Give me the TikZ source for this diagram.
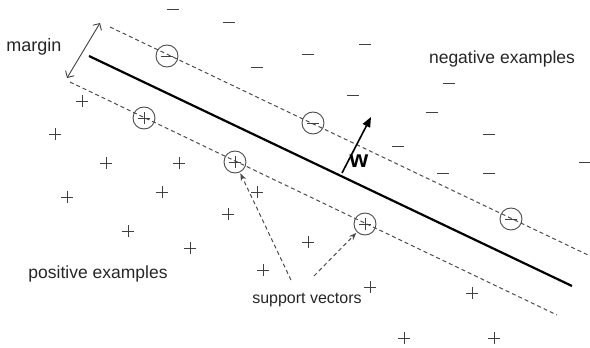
\documentclass[tikz,border=0pt]{standalone}
\usepackage{fontspec}
\setmainfont{Liberation Sans}
\usetikzlibrary{arrows.meta}
\usetikzlibrary{calc}

% signs of the examples
\newcommand{\plussign}[1]{\draw[sign] ($(#1)+(-6,0)$) -- ($(#1)+(6,0)$) ($(#1)+(0,-6)$) -- ($(#1)+(0,6)$);}
\newcommand{\minussign}[1]{\draw[sign] ($(#1)+(-6,0)$) -- ($(#1)+(6,0)$);}

\begin{document}
\begin{tikzpicture}[x=1pt, y=-1pt, >=Stealth,
    every node/.style={text=black!85},
    sign/.style={black!75, line width=0.9pt},
    svec/.style={circle, draw=black!70, line width=0.9pt, minimum size=22pt, inner sep=0pt},
    bound/.style={dashed, black!70, line width=1pt, dash pattern=on 4pt off 3pt}]

\useasboundingbox (0,0) rectangle (590,348);

% --- 1. SEPARATING LINE AND MARGINS ---
\coordinate (hyp_start) at (89,56);
\coordinate (hyp_end) at (572,286);
\coordinate (up_start) at (110,27);
\coordinate (up_end) at (588,255);
\coordinate (lo_start) at (70,82);
\coordinate (lo_end) at (557,315);

\draw[black, line width=2.2pt] (hyp_start) -- (hyp_end);
\draw[bound] (up_start) -- (up_end);
\draw[bound] (lo_start) -- (lo_end);

% margin arrow
\coordinate (m_top) at (100,23);
\coordinate (m_bot) at (67,78);
\draw[{Straight Barb[length=5pt]}-{Straight Barb[length=5pt]}, black!75, line width=0.9pt] (m_top) -- (m_bot);
\node[font=\fontsize{18}{20}\selectfont] (margin) at (34,47) {margin};

% normal vector
\coordinate (w_foot) at (342,173);
\coordinate (w_tip) at (371,117);
\draw[-{Triangle[length=10pt, width=8pt]}, black, line width=1.6pt] (w_foot) -- (w_tip);
\node[font=\fontsize{24}{26}\selectfont\bfseries, text=black] (w) at (359,161) {w};

% --- 2. SUPPORT VECTORS ---
\node[svec] (sv_n1) at (167,56) {};
\node[svec] (sv_n2) at (313,123) {};
\node[svec] (sv_n3) at (511,219) {};
\node[svec] (sv_p1) at (144,118) {};
\node[svec] (sv_p2) at (235,162) {};
\node[svec] (sv_p3) at (365,224) {};
\foreach \n in {sv_n1,sv_n2,sv_n3} {\minussign{\n.center}}
\foreach \p in {sv_p1,sv_p2,sv_p3} {\plussign{\p.center}}

% --- 3. OTHER EXAMPLES ---
\foreach \x/\y in {173/9, 229/22, 257/67, 308/54, 365/44, 353/95, 449/83,
                   432/112, 489/134, 398/146, 443/173, 489/173, 585/162}
    {\minussign{\x,\y}}
\foreach \x/\y in {82/101, 55/134, 106/163, 179/163, 67/197, 162/192, 257/192,
                   228/214, 128/231, 190/248, 263/270, 308/242, 370/287,
                   472/293, 404/338, 494/338}
    {\plussign{\x,\y}}

% --- 4. LABELS ---
\node[font=\fontsize{17.5}{20}\selectfont] (neg) at (502,59) {negative examples};
\node[font=\fontsize{17.5}{20}\selectfont] (pos) at (98,274) {positive examples};
\node[font=\fontsize{16}{18}\selectfont] (supp) at (307,300) {support vectors};

\coordinate (supp_a) at (291,280);
\coordinate (supp_b) at (314,276);
\draw[->, bound, shorten >=1pt] (supp_a) -- (sv_p2);
\draw[->, bound, shorten >=1pt] (supp_b) -- (sv_p3);

\end{tikzpicture}
\end{document}
